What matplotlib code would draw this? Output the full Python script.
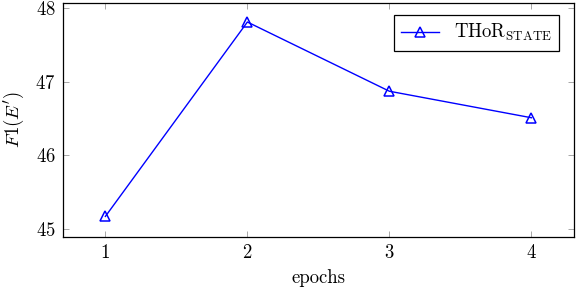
import matplotlib
matplotlib.use("Agg")
import matplotlib.pyplot as plt

epochs = [1, 2, 3, 4]
f1_scores = [45.17, 47.81, 46.87, 46.51]
series_label = r"$\mathrm{THoR}_{\mathrm{STATE}}$"

plt.rcParams["font.family"] = "serif"
plt.rcParams["font.serif"] = ["cmr10", "DejaVu Serif"]
plt.rcParams["mathtext.fontset"] = "cm"
plt.rcParams["axes.formatter.use_mathtext"] = True
plt.rcParams["font.size"] = 13.5

fig = plt.figure(figsize=(5.76, 2.88), dpi=100)
ax = fig.add_axes([0.109, 0.177, 0.8875, 0.813])

ax.plot(epochs, f1_scores, color="blue", linewidth=1.0, marker="^",
        markersize=7, markerfacecolor="none", markeredgecolor="blue",
        markeredgewidth=1.1, label=series_label)

ax.set_xlim(0.7, 4.3)
ax.set_ylim(44.89, 48.07)
ax.set_xticks(epochs)
ax.set_yticks([45, 46, 47, 48])
ax.set_xlabel("epochs", labelpad=5)
ax.set_ylabel(r"$F1(E')$", labelpad=7)

ax.tick_params(direction="in", length=4, width=0.6, color="0.6",
               top=True, right=True, labelcolor="black", pad=5)
for s in ax.spines.values():
    s.set_linewidth(0.9)

leg = ax.legend(loc="upper right", fancybox=False, framealpha=1,
                edgecolor="black", borderpad=0.4, handlelength=2.0,
                bbox_to_anchor=(0.99, 0.99))
leg.get_frame().set_linewidth(0.9)

fig.savefig("out.png", dpi=100)
